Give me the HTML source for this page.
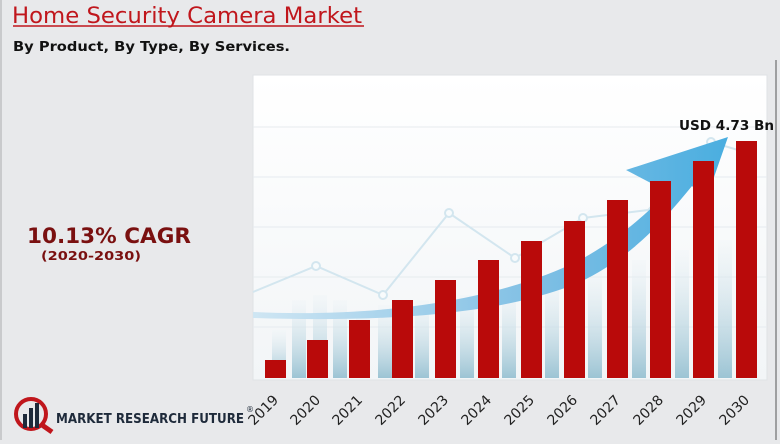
<!DOCTYPE html>
<html><head><style>
body{margin:0;width:780px;height:440px;overflow:hidden;background:#e8e9eb;font-family:"DejaVu Sans",sans-serif;}
</style></head><body>
<svg width="780" height="440" viewBox="0 0 780 440" xmlns="http://www.w3.org/2000/svg" font-family="DejaVu Sans, sans-serif">
<defs>
<linearGradient id="pg" x1="0" y1="0" x2="0" y2="1"><stop offset="0" stop-color="#ffffff"/><stop offset="1" stop-color="#f2f5f7"/></linearGradient>
<linearGradient id="gb" x1="0" y1="0" x2="0" y2="1"><stop offset="0" stop-color="#eef4f7" stop-opacity="0.3"/><stop offset="1" stop-color="#9cc4d4"/></linearGradient>
<linearGradient id="ar" x1="0" y1="0" x2="1" y2="0"><stop offset="0" stop-color="#cfe6f3"/><stop offset="0.6" stop-color="#7fbfe4"/><stop offset="1" stop-color="#4aaee0"/></linearGradient>
</defs>
<rect x="0" y="0" width="780" height="440" fill="#e8e9eb"/>
<rect x="0" y="0" width="2" height="440" fill="#c9cacc"/>
<rect x="253" y="75" width="514" height="305" fill="url(#pg)" stroke="#dfe2e5"/>
<g stroke="#e6ebef" stroke-width="1">
<line x1="253" y1="177" x2="767" y2="177"/><line x1="253" y1="277" x2="767" y2="277"/>
<line x1="253" y1="127" x2="767" y2="127"/><line x1="253" y1="227" x2="767" y2="227"/><line x1="253" y1="327" x2="767" y2="327"/>
</g>
<g fill="url(#gb)">
<rect x="272" y="330" width="14" height="48"/><rect x="292" y="300" width="14" height="78"/><rect x="313" y="295" width="14" height="83"/><rect x="333" y="300" width="14" height="78"/><rect x="356" y="310" width="14" height="68"/><rect x="378" y="305" width="14" height="73"/><rect x="415" y="300" width="14" height="78"/><rect x="460" y="295" width="14" height="83"/><rect x="502" y="290" width="14" height="88"/><rect x="545" y="280" width="14" height="98"/><rect x="588" y="270" width="14" height="108"/><rect x="632" y="260" width="14" height="118"/><rect x="675" y="250" width="14" height="128"/><rect x="718" y="240" width="14" height="138"/>
</g>
<polyline points="253,292 316,266 383,295 449,213 515,258 583,218 648,210 711,142 755,155" fill="none" stroke="#d3e6ef" stroke-width="2"/>
<g fill="#f8fbfc" stroke="#d3e6ef" stroke-width="2"><circle cx="316" cy="266" r="4"/><circle cx="383" cy="295" r="4"/><circle cx="449" cy="213" r="4"/><circle cx="515" cy="258" r="4"/><circle cx="583" cy="218" r="4"/><circle cx="711" cy="142" r="4"/></g>
<path d="M253,312 C380,318 500,300 580,260 C620,238 645,215 668,192 L626,170 L728,137 L706,200 L692,186 C660,225 630,258 580,282 C500,316 380,322 253,318 Z" fill="url(#ar)"/>
<g fill="#b90a0a">
<rect x="265" y="360" width="21" height="18"/><rect x="307" y="340" width="21" height="38"/><rect x="349" y="320" width="21" height="58"/><rect x="392" y="300" width="21" height="78"/><rect x="435" y="280" width="21" height="98"/><rect x="478" y="260" width="21" height="118"/><rect x="521" y="241" width="21" height="137"/><rect x="564" y="221" width="21" height="157"/><rect x="607" y="200" width="21" height="178"/><rect x="650" y="181" width="21" height="197"/><rect x="693" y="161" width="21" height="217"/><rect x="736" y="141" width="21" height="237"/>
</g>
<line x1="776" y1="60" x2="776" y2="440" stroke="#555" stroke-width="1"/>
<text x="12" y="23" font-size="22" fill="#c0161c" textLength="350" lengthAdjust="spacingAndGlyphs">Home Security Camera Market</text>
<line x1="13" y1="26" x2="364" y2="26" stroke="#c0161c" stroke-width="1.5"/>
<text x="13" y="51" font-size="13" font-weight="bold" fill="#111" textLength="277" lengthAdjust="spacingAndGlyphs">By Product, By Type, By Services.</text>
<text x="27" y="243" font-size="21" font-weight="bold" fill="#7a1010" textLength="164" lengthAdjust="spacingAndGlyphs">10.13% CAGR</text>
<text x="41" y="260" font-size="12" font-weight="bold" fill="#7a1010" textLength="100" lengthAdjust="spacingAndGlyphs">(2020-2030)</text>
<text x="679" y="130" font-size="13" font-weight="bold" fill="#111" textLength="95" lengthAdjust="spacingAndGlyphs">USD 4.73 Bn</text>
<g font-size="14" fill="#222">
<text transform="translate(254,426) rotate(-45)">2019</text><text transform="translate(296,426) rotate(-45)">2020</text><text transform="translate(338,426) rotate(-45)">2021</text><text transform="translate(381,426) rotate(-45)">2022</text><text transform="translate(424,426) rotate(-45)">2023</text><text transform="translate(467,426) rotate(-45)">2024</text><text transform="translate(510,426) rotate(-45)">2025</text><text transform="translate(553,426) rotate(-45)">2026</text><text transform="translate(596,426) rotate(-45)">2027</text><text transform="translate(639,426) rotate(-45)">2028</text><text transform="translate(682,426) rotate(-45)">2029</text><text transform="translate(725,426) rotate(-45)">2030</text>
</g>
<circle cx="31" cy="414" r="15" fill="none" stroke="#c0161c" stroke-width="4"/>
<line x1="42" y1="425" x2="52" y2="432" stroke="#c0161c" stroke-width="5"/>
<rect x="23" y="414" width="4" height="14" fill="#1e2a3a"/><rect x="29" y="408" width="4" height="20" fill="#1e2a3a"/><rect x="35" y="403" width="4" height="25" fill="#1e2a3a"/>
<text x="56" y="423" font-size="13" font-weight="bold" fill="#1e2a3a" textLength="188" lengthAdjust="spacingAndGlyphs">MARKET  RESEARCH  FUTURE</text>
<text x="246" y="412" font-size="8" fill="#1e2a3a">®</text>
</svg>
</body></html>
